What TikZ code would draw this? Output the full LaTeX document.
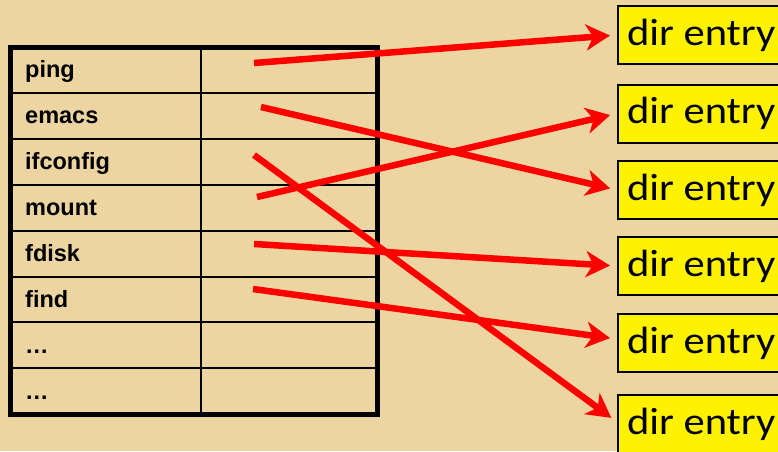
\documentclass[tikz,border=0pt]{standalone}
\usepackage{fontspec}
\setmainfont{Liberation Sans}
\newfontfamily\entreefont[FakeStretch=1.12]{Carlito}
\usetikzlibrary{arrows.meta}
\definecolor{papyrus}{RGB}{236,213,160}
\tikzset{
  nom/.style={anchor=base west,inner sep=0pt,font=\bfseries\fontsize{23.5}{23.5}\selectfont},
  entree/.style={draw=black,line width=2pt,fill=yellow,anchor=west,minimum height=58pt,
    inner xsep=9pt,font=\entreefont\fontsize{38}{38}\selectfont},
  fleche/.style={red,line width=6.5pt,-{Stealth[length=24pt,width=26pt,inset=7pt]},shorten >=7pt}
}
\begin{document}
\begin{tikzpicture}[x=1pt,y=-1pt]
\useasboundingbox (0,0) rectangle (778,451);
\clip (0,0) rectangle (778,451);
\fill[papyrus] (0,0) rectangle (778,451);%fond
% table des noms
\foreach \k in {1,...,7}
  \draw[line width=2pt] (10,{47+45.9*\k}) -- (377,{47+45.9*\k});
\draw[line width=2pt] (201,47) -- (201,414);
\draw[line width=5pt] (10,47) rectangle (377,414);
\foreach \nom [count=\i] in {ping,emacs,ifconfig,mount,fdisk,find,\dots,\dots}
  \node[nom] (n\i) at (25,{47+45.9*(\i-0.5)+8}) {\nom};
% dir entries
\node[entree] (e1) at (617,35) {dir entry};
\node[entree] (e2) at (617,113.5) {dir entry};
\node[entree] (e3) at (617,190) {dir entry};
\node[entree] (e4) at (617,266) {dir entry};
\node[entree] (e5) at (617,343) {dir entry};
\node[entree] (e6) at (617,424) {dir entry};
% departs des fleches
\coordinate (s1) at (254,63);%ping
\coordinate (s2) at (261,107);%emacs
\coordinate (s3) at (254,155);%ifconfig
\coordinate (s4) at (257,197);%mount
\coordinate (s5) at (254,244);%fdisk
\coordinate (s6) at (253,289);%find
\draw[fleche] (s1) -- (e1.west);
\draw[fleche] (s2) -- (e3.west);
\draw[fleche] (s3) -- ([yshift=2pt]e6.west);
\draw[fleche] (s4) -- (e2.west);
\draw[fleche] (s5) -- (e4.west);
\draw[fleche] (s6) -- ([yshift=4pt]e5.west);
\end{tikzpicture}
\end{document}
